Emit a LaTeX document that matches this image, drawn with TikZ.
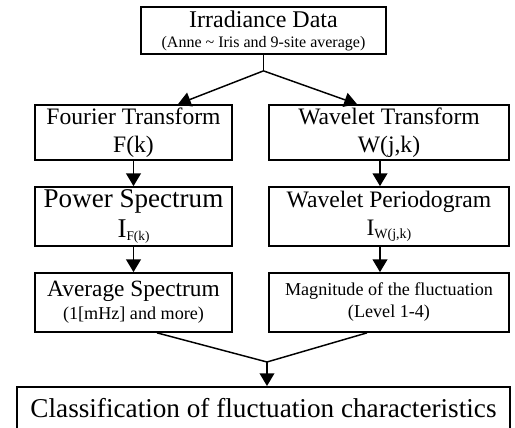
\documentclass[tikz,border=0pt]{standalone}
\usepackage{fontspec}
\setmainfont{Liberation Serif}
\usetikzlibrary{calc,positioning,arrows.meta}

\begin{document}
\begin{tikzpicture}[x=0.75pt,y=-0.75pt,
    box/.style={draw,line width=1.3pt,rectangle,align=center,inner sep=0pt},
    link/.style={line width=1.1pt,-{Triangle[width=11pt,length=9.5pt]}},
    joint/.style={line width=1.1pt}]

  \useasboundingbox (0,0) rectangle (515,428);

  % data and the two transforms
  \node [box, minimum width=183.75pt, minimum height=35.25pt,
         font=\fontsize{18}{15}\selectfont] at (263.5,30.5) (irr)
    {Irradiance Data\\
     \fontsize{12}{13}\selectfont (Anne \textasciitilde{} Iris and 9-site average)};
  \node [box, minimum width=147.75pt, minimum height=41.25pt,
         font=\fontsize{17.7}{21}\selectfont] at (133.5,132.5) (ft)
    {Fourier Transform\\F(k)};
  \node [box, minimum width=180pt, minimum height=41.25pt,
         font=\fontsize{17.7}{21}\selectfont] at (389,132.5) (wt)
    {Wavelet Transform\\W(j,k)};

  % spectra
  \node [box, minimum width=147.75pt, minimum height=44.25pt,
         font=\fontsize{20.3}{22}\selectfont] at (133.5,216.5) (ps)
    {Power Spectrum\\
     I\raisebox{-2.5pt}{\fontsize{10}{10}\selectfont F(k)}};
  \node [box, minimum width=180pt, minimum height=44.25pt,
         font=\fontsize{17.7}{21}\selectfont] at (389,216.5) (wp)
    {Wavelet Periodogram\\
     I\raisebox{-2.5pt}{\fontsize{10.5}{10}\selectfont W(j,k)}};

  \node [box, minimum width=147.75pt, minimum height=44.25pt,
         font=\fontsize{17.5}{17}\selectfont] at (133.5,302.5) (as)
    {Average Spectrum\\
     \fontsize{13.6}{15}\selectfont (1[mHz] and more)};
  \node [box, minimum width=180pt, minimum height=44.25pt,
         font=\fontsize{13.6}{16.5}\selectfont] at (389,302.5) (mf)
    {Magnitude of the fluctuation\\(Level 1-4)};

  \node [box, minimum width=369.75pt, text height=23pt, text depth=16pt, anchor=north,
         font=\fontsize{20.4}{24}\selectfont] at (263.5,386) (cls)
    {Classification of fluctuation characteristics};

  % connectors
  \coordinate (split) at ($(irr.south)+(0,16)$);
  \draw [joint] (irr.south) -- (split);
  \draw [link] (split) -- ($(ft.north)+(44.5,0)$);
  \draw [link] (split) -- ($(wt.north)+(-32,0)$);

  \draw [link] (ft.south) -- (ps.north);
  \draw [link] ($(wt.south)+(-9,0)$) -- ($(wp.north)+(-9,0)$);
  \draw [link] (ps.south) -- (as.north);
  \draw [link] ($(wp.south)+(-9,0)$) -- ($(mf.north)+(-9,0)$);

  \coordinate (merge) at (267,362);
  \draw [joint] ($(as.south)+(23.5,0)$) -- (merge) -- ($(mf.south)+(-22,0)$);
  \draw [link] (merge) -- (merge |- cls.north);

\end{tikzpicture}
\end{document}
